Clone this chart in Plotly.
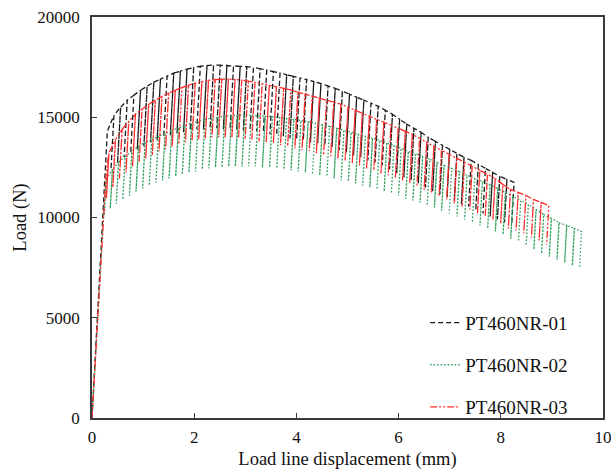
import plotly.graph_objects as go

# ---------------- data ----------------
SERIES_NAMES = ["PT460NR-01", "PT460NR-02", "PT460NR-03"]

# initial (monotonic) loading part before the first unloading cycle
INIT_X_01 = [0.0, 0.10, 0.21, 0.25, 0.28]
INIT_Y_01 = [0, 4700, 10000, 12000, 13300]
INIT_X_02 = [0.0, 0.10, 0.22, 0.25]
INIT_Y_02 = [0, 4500, 10000, 11200]
INIT_X_03 = [0.0, 0.10, 0.22, 0.27, 0.30]
INIT_Y_03 = [0, 4600, 10000, 11900, 12700]

# unloading cycles: displacement at the start of unloading, peak load, valley load
CYC_X_01 = [0.30, 0.43, 0.56, 0.69, 0.82, 0.95, 1.08, 1.21, 1.34, 1.47,
            1.60, 1.73, 1.86, 1.99, 2.12, 2.25, 2.38, 2.51, 2.64, 2.77,
            2.90, 3.03, 3.16, 3.29, 3.42, 3.55, 3.68, 3.81, 3.94, 4.07,
            4.20, 4.34, 4.48, 4.62, 4.76, 4.90, 5.04, 5.18, 5.32, 5.46,
            5.60, 5.74, 5.88, 6.02, 6.16, 6.30, 6.44, 6.58, 6.72, 6.86,
            7.00, 7.14, 7.28, 7.42, 7.56, 7.70, 7.84, 7.98, 8.12, 8.26]
CYC_P_01 = [14300, 15100, 15500, 15850, 16100, 16350, 16550, 16750, 16900, 17050,
            17200, 17300, 17400, 17480, 17540, 17580, 17600, 17600, 17580, 17560,
            17540, 17520, 17480, 17420, 17350, 17280, 17200, 17120, 17040, 16960,
            16880, 16780, 16680, 16560, 16440, 16300, 16150, 16000, 15850, 15700,
            15550, 15350, 15150, 14900, 14650, 14450, 14250, 14000, 13800, 13600,
            13400, 13200, 13000, 12850, 12650, 12450, 12250, 12050, 11900, 11750]
CYC_V_01 = [11750, 12400, 12700, 13000, 13200, 13400, 13550, 13750, 13850, 14000,
            14100, 14200, 14250, 14350, 14400, 14400, 14450, 14450, 14400, 14400,
            14400, 14350, 14350, 14300, 14250, 14150, 14100, 14050, 13950, 13900,
            13850, 13750, 13700, 13600, 13500, 13350, 13250, 13100, 13000, 12850,
            12750, 12600, 12400, 12200, 12000, 11850, 11700, 11500, 11300, 11150,
            11000, 10800, 10650, 10550, 10350, 10200, 10050, 9900, 9750, 9650]

CYC_X_02 = [0.28, 0.40, 0.52, 0.65, 0.78, 0.91, 1.04, 1.17, 1.30, 1.43,
            1.56, 1.69, 1.82, 1.95, 2.08, 2.21, 2.34, 2.47, 2.60, 2.73,
            2.86, 2.99, 3.12, 3.25, 3.39, 3.53, 3.67, 3.81, 3.95, 4.09,
            4.23, 4.37, 4.51, 4.65, 4.79, 4.93, 5.07, 5.21, 5.35, 5.49,
            5.63, 5.77, 5.91, 6.05, 6.19, 6.33, 6.47, 6.61, 6.75, 6.89,
            7.04, 7.19, 7.34, 7.49, 7.64, 7.79, 7.94, 8.09, 8.24, 8.39,
            8.54, 8.69, 8.84, 8.99, 9.14, 9.29, 9.44, 9.58]
CYC_P_02 = [11900, 12400, 12750, 13050, 13300, 13550, 13750, 13900, 14050, 14200,
            14350, 14450, 14600, 14700, 14800, 14880, 14950, 15000, 15050, 15080,
            15100, 15100, 15100, 15080, 15050, 15020, 14980, 14940, 14900, 14840,
            14780, 14700, 14620, 14540, 14450, 14350, 14250, 14150, 14050, 13950,
            13850, 13720, 13600, 13450, 13300, 13180, 13050, 12900, 12750, 12600,
            12450, 12280, 12100, 11950, 11800, 11620, 11450, 11250, 11050, 10850,
            10650, 10400, 10150, 9950, 9750, 9600, 9450, 9300]
CYC_V_02 = [10100, 10450, 10700, 10900, 11100, 11300, 11450, 11600, 11750, 11850,
            11950, 12050, 12150, 12250, 12300, 12400, 12450, 12500, 12500, 12550,
            12550, 12550, 12550, 12550, 12500, 12500, 12450, 12400, 12350, 12300,
            12250, 12150, 12100, 12050, 11950, 11850, 11800, 11700, 11600, 11500,
            11400, 11300, 11200, 11100, 10950, 10850, 10750, 10600, 10500, 10350,
            10200, 10050, 9900, 9750, 9600, 9450, 9300, 9150, 8950, 8800,
            8600, 8400, 8200, 8050, 7900, 7750, 7600, 7500]

CYC_X_03 = [0.33, 0.46, 0.59, 0.72, 0.85, 0.98, 1.11, 1.24, 1.37, 1.50,
            1.63, 1.76, 1.89, 2.02, 2.15, 2.28, 2.41, 2.54, 2.67, 2.80,
            2.93, 3.06, 3.19, 3.33, 3.47, 3.61, 3.75, 3.89, 4.03, 4.17,
            4.31, 4.45, 4.59, 4.73, 4.87, 5.01, 5.15, 5.29, 5.43, 5.57,
            5.71, 5.85, 5.99, 6.13, 6.27, 6.41, 6.55, 6.69, 6.84, 6.99,
            7.14, 7.29, 7.44, 7.59, 7.74, 7.89, 8.04, 8.19, 8.34, 8.49,
            8.64, 8.79, 8.94]
CYC_P_03 = [13200, 13900, 14400, 14800, 15150, 15400, 15650, 15850, 16050, 16200,
            16350, 16480, 16600, 16700, 16780, 16840, 16880, 16900, 16900, 16880,
            16850, 16800, 16740, 16670, 16600, 16520, 16440, 16360, 16250, 16150,
            16050, 15950, 15850, 15750, 15650, 15500, 15350, 15200, 15050, 14900,
            14750, 14600, 14450, 14300, 14150, 13950, 13750, 13550, 13350, 13150,
            12950, 12750, 12550, 12350, 12150, 11950, 11650, 11400, 11250, 11100,
            10900, 10750, 10600]
CYC_V_03 = [10950, 11500, 11950, 12250, 12550, 12750, 12950, 13100, 13300, 13400,
            13550, 13650, 13750, 13850, 13900, 13950, 14000, 14000, 14000, 14000,
            13950, 13900, 13850, 13800, 13750, 13700, 13600, 13550, 13450, 13350,
            13300, 13200, 13100, 13050, 12950, 12850, 12700, 12600, 12450, 12350,
            12200, 12100, 11950, 11850, 11700, 11550, 11400, 11250, 11050, 10900,
            10700, 10550, 10400, 10200, 10050, 9900, 9700, 9450, 9350, 9200,
            9000, 8850, 8650]

# elastic unloading stiffness (N/mm) of each specimen
UNLOAD_STIFFNESS = [46000, 46000, 46000]

X_TICKS = [0, 2, 4, 6, 8, 10]
Y_TICKS = [0, 5000, 10000, 15000, 20000]
Y_TICK_TEXT = ["0", "5000", "10000", "15000", "20000"]


def build_path(ix, iy, cx, cp, cv, k):
    xs, ys = list(ix), list(iy)
    for x, p, v in zip(cx, cp, cv):
        xs += [x, x - (p - v) / k, x]
        ys += [p, v, p]
    # specimen test ends after the last unloading
    return xs[:-1], ys[:-1]


paths = [
    build_path(INIT_X_01, INIT_Y_01, CYC_X_01, CYC_P_01, CYC_V_01, UNLOAD_STIFFNESS[0]),
    build_path(INIT_X_02, INIT_Y_02, CYC_X_02, CYC_P_02, CYC_V_02, UNLOAD_STIFFNESS[1]),
    build_path(INIT_X_03, INIT_Y_03, CYC_X_03, CYC_P_03, CYC_V_03, UNLOAD_STIFFNESS[2]),
]

styles = [
    dict(color="#1a1a1a", width=1.3, dash="5px,3px"),
    dict(color="#2e9e5b", width=1.3, dash="1.5px,2px"),
    dict(color="#ff2a2a", width=1.3, dash="7px,2px,2px,2px,2px,2px"),
]

FONT = "Liberation Serif, Times New Roman, serif"

fig = go.Figure()
for name, (xs, ys), st in zip(SERIES_NAMES, paths, styles):
    fig.add_trace(go.Scatter(x=xs, y=ys, mode="lines", name=name, line=st,
                             legendgroup=name))

axis_common = dict(
    showline=True, linecolor="#3a3a3a", linewidth=1.6, mirror=True,
    ticks="inside", ticklen=5, tickwidth=1.2, tickcolor="#3a3a3a",
    showgrid=False, zeroline=False, automargin=False,
    ticklabeloverflow="allow",
    tickfont=dict(family=FONT, size=17, color="#111"),
    title_font=dict(family=FONT, size=18.5, color="#111"),
)

fig.update_layout(
    width=611, height=470,
    margin=dict(l=92, r=8, t=17, b=52),
    paper_bgcolor="white", plot_bgcolor="white",
    showlegend=True,
    legend=dict(x=0.652, y=0.285, xanchor="left", yanchor="top",
                font=dict(family=FONT, size=19, color="#111"),
                bgcolor="rgba(0,0,0,0)", tracegroupgap=14.5,
                itemwidth=30),
    xaxis=dict(range=[0, 10], tickvals=X_TICKS, title_text="Load line displacement (mm)",
               title_standoff=6, ticklabelstandoff=3, **axis_common),
    yaxis=dict(range=[0, 20000], tickvals=Y_TICKS, ticktext=Y_TICK_TEXT,
               title_text="Load (N)",
               title_standoff=6, ticklabelstandoff=7, **axis_common),
)

fig.write_html("out.html")
